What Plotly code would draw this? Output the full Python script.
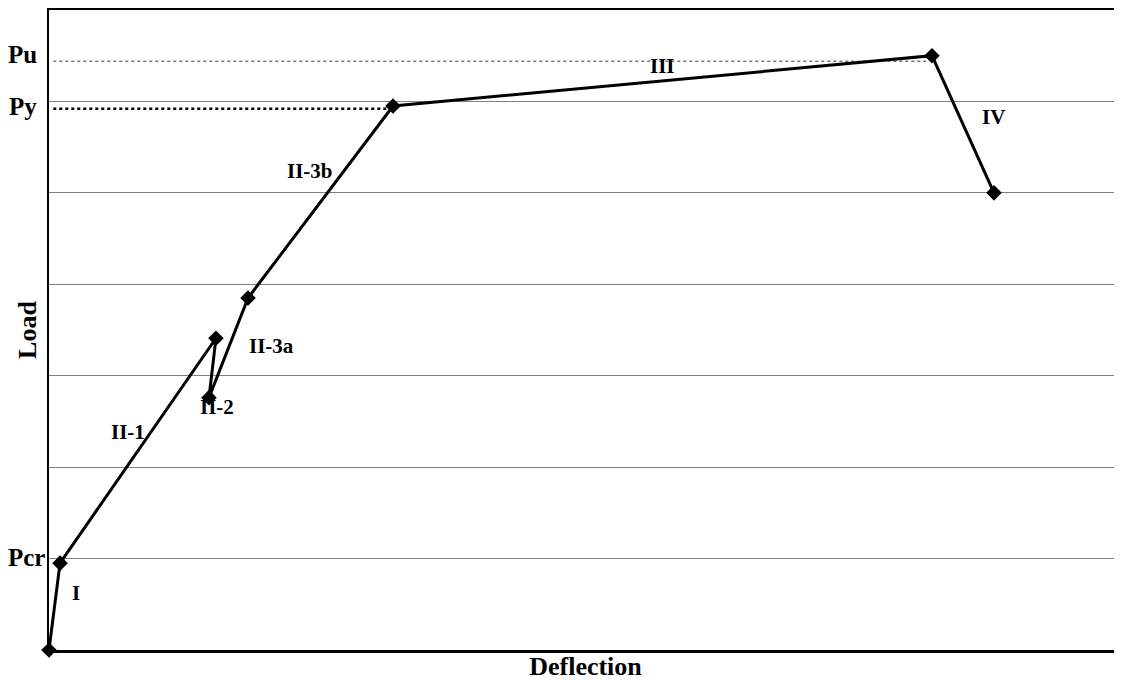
import plotly.graph_objects as go

# data (arbitrary units)
deflection = [0.0, 1.03, 15.56, 14.91, 18.55, 32.06, 82.29, 88.07]
load = [0.0, 0.95, 3.41, 2.76, 3.85, 5.95, 6.50, 5.00]

pu_level = 6.44
py_level = 5.92
pu_end = 82.0
py_end = 32.06

level_labels = ["Pu", "Py", "Pcr"]
level_label_y = [6.51, 5.94, 1.01]

seg_labels = ["I", "II-1", "II-2", "II-3a", "II-3b", "III", "IV"]
seg_x = [2.52, 7.36, 15.66, 20.78, 24.32, 57.13, 87.98]
seg_y = [0.62, 2.38, 2.66, 3.32, 5.24, 6.39, 5.83]

font_family = "Liberation Serif, Times New Roman, serif"
label_xshift = [-10, -10, -2]

fig = go.Figure()

fig.add_trace(go.Scatter(x=[0.4, pu_end], y=[pu_level, pu_level], mode="lines",
                         line=dict(color="#333333", width=1, dash="dot"), hoverinfo="skip"))
fig.add_trace(go.Scatter(x=[0.4, py_end], y=[py_level, py_level], mode="lines",
                         line=dict(color="#000000", width=2.5, dash="dot"), hoverinfo="skip"))

fig.add_trace(go.Scatter(x=deflection, y=load, mode="lines+markers",
                         line=dict(color="black", width=3),
                         marker=dict(symbol="diamond", size=12, color="black"),
                         cliponaxis=False))

for t, yv, xs in zip(level_labels, level_label_y, label_xshift):
    fig.add_annotation(x=0, xref="paper", y=yv, yref="y", text="<b>%s</b>" % t,
                       showarrow=False, xanchor="right", xshift=xs,
                       font=dict(family=font_family, size=25, color="black"))

for t, xv, yv in zip(seg_labels, seg_x, seg_y):
    fig.add_annotation(x=xv, y=yv, text="<b>%s</b>" % t, showarrow=False,
                       font=dict(family=font_family, size=21, color="black"))

fig.update_layout(
    width=1114, height=673,
    margin=dict(l=41, r=0, t=2, b=31),
    paper_bgcolor="white", plot_bgcolor="white",
    showlegend=False,
    font=dict(family=font_family, color="black"),
    xaxis=dict(range=[0, 100], showgrid=False, zeroline=False, showticklabels=False,
               ticks="", showline=True, linecolor="black", linewidth=2.5, mirror=True,
               title=dict(text="<b>Deflection</b>", font=dict(size=26, family=font_family), standoff=11)),
    yaxis=dict(range=[0, 7], dtick=1, showgrid=True, gridcolor="#808080", gridwidth=1,
               zeroline=False, showticklabels=False, ticks="", showline=True,
               linecolor="black", linewidth=2,
               title=dict(text="<b>Load</b>", font=dict(size=26, family=font_family), standoff=3)),
)

fig.write_html("out.html")
